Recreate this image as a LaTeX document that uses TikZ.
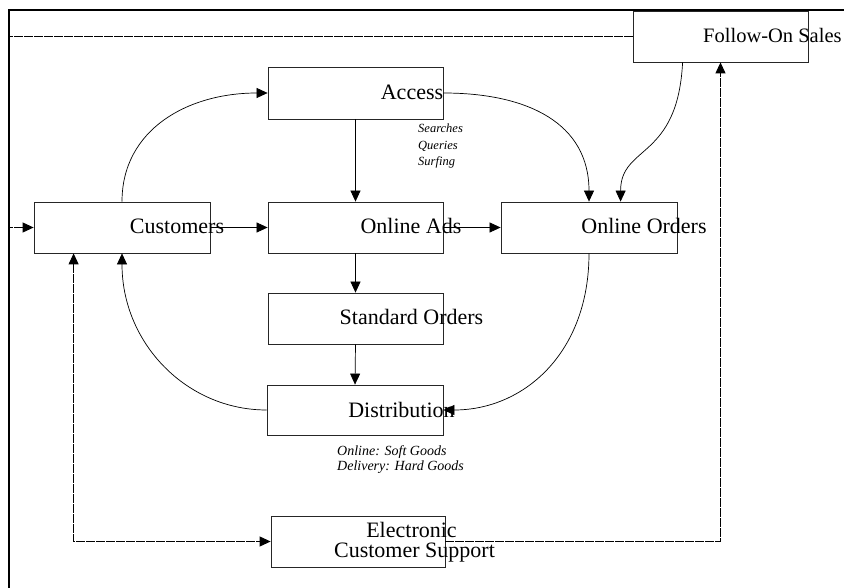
\documentclass[tikz,border=0pt]{standalone}
\usepackage{fontspec}
\setmainfont{Liberation Serif}
\usetikzlibrary{arrows.meta,calc}
\tikzset{
  box/.style={draw=black!85, line width=0.8pt, minimum width=175pt, minimum height=51pt, inner sep=0pt},
  lbl/.style={anchor=base, inner sep=0pt, font=\fontsize{22}{24}\selectfont},
  note/.style={anchor=base west, inner sep=0pt, font=\itshape\fontsize{12.5}{14}\selectfont},
  note2/.style={anchor=base west, inner sep=0pt, font=\itshape\fontsize{14}{16}\selectfont},
  conn/.style={line width=0.7pt, -{Triangle[length=11pt,width=10pt]}},
  dconn/.style={line width=1pt, dash pattern=on 9pt off 1pt},
  frame/.style={line width=2pt}
}
\begin{document}
\begin{tikzpicture}[x=1pt,y=-1pt]
\useasboundingbox (0,0) rectangle (844,588);
\fill[white] (0,0) rectangle (844,588);
% frame
\coordinate (fbl) at (9,588);
\coordinate (ftl) at (9,10);
\coordinate (ftr) at (844,10);
\draw[frame] (fbl) -- (ftl) -- (ftr);
% boxes
\node[box, minimum width=176pt] (cust) at (122,227.5) {};
\node[box, minimum height=52pt] (access) at (355.5,93) {};
\node[box] (ads) at (355.5,227.5) {};
\node[box, minimum width=176pt] (orders) at (589,227.5) {};
\node[box] (std) at (355.5,318.5) {};
\node[box, minimum width=176pt, minimum height=50pt] (dist) at (355,410) {};
\node[box] (follow) at (720.5,36.5) {};
\node[box, minimum width=174pt] (support) at (358,541.5) {};
% texts
\node[lbl] (tcust) at (177,234) {Customers};
\node[lbl] (taccess) at (412,99.5) {Access};
\node[lbl] (tads) at (411,234) {Online Ads};
\node[lbl] (torders) at (644,234) {Online Orders};
\node[lbl] (tstd) at (411.5,325) {Standard Orders};
\node[lbl] (tdist) at (401.5,417) {Distribution};
\node[lbl, anchor=base west, font=\fontsize{20.5}{22}\selectfont] (tfollow) at (703,42.5) {Follow-On Sales};
\node[lbl] (tsup1) at (411.5,537.5) {Electronic};
\node[lbl] (tsup2) at (414.5,557) {Customer Support};
\node[note] (n1) at (418,133) {Searches};
\node[note] (n2) at (418,149.5) {Queries};
\node[note] (n3) at (418,166) {Surfing};
\node[note2] (n4) at (337,455) {Online: Soft Goods};
\node[note2] (n5) at (337,470.5) {Delivery: Hard Goods};
% straight connectors
\draw[conn] (cust.east) -- (ads.west);
\draw[conn] (ads.east) -- (orders.west);
\draw[conn] (access.south) -- (ads.north);
\draw[conn] (ads.south) -- (std.north);
\draw[conn] (std.south) -- (dist.north);
% curved connectors
\draw[conn] (cust.north) .. controls +(0,-72) and +(-80,0) .. (access.west);
\draw[conn] (access.east) .. controls +(85,0) and +(0,-78) .. (orders.north);
\draw[conn] (orders.south) .. controls +(0,100) and +(80,0) .. (dist.east);
\draw[conn] (dist.west) .. controls +(-80,0) and +(0,90) .. (cust.south);
\coordinate (fs) at ($(follow.south west)+(50,0)$);
\coordinate (ot) at ($(orders.north west)+(120,0)$);
\draw[conn] (fs) .. controls +(-5,98) and +(0,-57) .. (ot);
% dashed connectors
\coordinate (lt) at (9,36.5);
\draw[dconn, -{Triangle[length=11pt,width=10pt]}] (follow.west) -- (lt) |- (cust.west);
\coordinate (cb) at ($(cust.south west)+(40,0)$);
\draw[dconn, {Triangle[length=11pt,width=10pt]}-{Triangle[length=11pt,width=10pt]}] (cb) |- (support.west);
\draw[dconn, -{Triangle[length=11pt,width=10pt]}] (support.east) -| (follow.south);
\end{tikzpicture}
\end{document}
